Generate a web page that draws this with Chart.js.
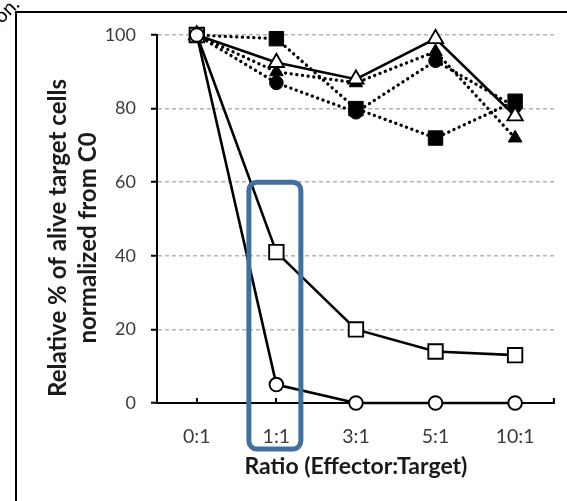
<!DOCTYPE html>
<html>
<head>
<meta charset="utf-8">
<script src="https://cdn.jsdelivr.net/npm/chart.js@4"></script>
<style>
  html, body { margin: 0; padding: 0; background: #ffffff; }
  #wrap { width: 567px; height: 501px; }
</style>
</head>
<body>
<div id="wrap"><canvas id="c" width="567" height="501"></canvas></div>
<script>
// ---- data ----
const categories = ['0:1', '1:1', '3:1', '5:1', '10:1'];
const yTicks = [0, 20, 40, 60, 80, 100];
const openCircle = [100, 5, 0, 0, 0];
const openSquare = [100, 41, 20, 14, 13];
const openTriangle = [100, 92.5, 88, 99, 78];
const filledSquare = [100, 99, 80, 72, 82];
const filledCircle = [100, 87, 79, 93, 80.5];
const filledTriangle = [100, 90, 87, 95.5, 72];
const xTitle = 'Ratio (Effector:Target)';
const yTitleLines = ['Relative % of alive target cells', 'normalized from C0'];
const highlightIndex = 1;     // highlighted category (1:1)
const highlightTopValue = 60; // top of the highlight box in data units

const FONT = 'Lato, "Open Sans", sans-serif';

function solid(data, style, radius, order) {
  return {
    data, order, clip: false,
    borderColor: '#000', borderWidth: 2.6,
    pointStyle: style, pointRadius: radius, pointHoverRadius: radius,
    pointBackgroundColor: '#fff', pointBorderColor: '#000', pointBorderWidth: 1.9,
    tension: 0, fill: false
  };
}
function dotted(data, style, radius, order) {
  return {
    data, order, clip: false,
    borderColor: '#000', borderWidth: 3.3,
    borderDash: [0.1, 5.6], borderCapStyle: 'round',
    pointStyle: style, pointRadius: radius, pointHoverRadius: radius,
    pointBackgroundColor: '#000', pointBorderColor: '#000', pointBorderWidth: 1,
    tension: 0, fill: false
  };
}

const decor = {
  id: 'decor',
  beforeDraw(chart) {
    const ctx = chart.ctx;
    ctx.save();
    ctx.fillStyle = '#fff';
    ctx.fillRect(0, 0, chart.width, chart.height);
    ctx.restore();
  },
  beforeDatasetsDraw(chart) {
    const ctx = chart.ctx;
    const xs = chart.scales.x;
    const area = chart.chartArea;
    ctx.save();
    // inward tick marks on x axis (under the markers)
    ctx.strokeStyle = '#000';
    ctx.lineWidth = 2;
    ctx.beginPath();
    categories.forEach((c, i) => {
      const px = Math.round(xs.getPixelForValue(i));
      ctx.moveTo(px, area.bottom);
      ctx.lineTo(px, area.bottom - 5);
    });
    ctx.moveTo(area.right - 1, area.bottom);
    ctx.lineTo(area.right - 1, area.bottom - 5);
    ctx.stroke();
    ctx.restore();
  },
  afterDraw(chart) {
    const ctx = chart.ctx;
    const xs = chart.scales.x, ys = chart.scales.y;
    const area = chart.chartArea;
    ctx.save();

    // y axis title (two lines, rotated), sized so the first line spans ~320px
    let fs = 19;
    ctx.font = 'bold ' + fs + 'px ' + FONT;
    const w = ctx.measureText(yTitleLines[0]).width;
    fs = Math.max(12, Math.min(26, fs * 318 / w));
    ctx.font = 'bold ' + fs.toFixed(1) + 'px ' + FONT;
    ctx.fillStyle = '#1a1a1a';
    ctx.textAlign = 'center';
    ctx.textBaseline = 'middle';
    const cy = 238;
    [58, 88].forEach((cx, i) => {
      ctx.save();
      ctx.translate(cx, cy);
      ctx.rotate(-Math.PI / 2);
      ctx.fillText(yTitleLines[i], 0, 0);
      ctx.restore();
    });

    // highlight box around the 1:1 category
    const hx = xs.getPixelForValue(highlightIndex) - 1.5;
    const top = ys.getPixelForValue(highlightTopValue);
    const bottom = area.bottom + 46;
    ctx.strokeStyle = '#41709f';
    ctx.lineWidth = 5;
    ctx.beginPath();
    ctx.roundRect(hx - 26, top, 52, bottom - top, 8);
    ctx.stroke();

    // outer frame
    ctx.strokeStyle = '#000';
    ctx.lineWidth = 2;
    ctx.beginPath();
    ctx.moveTo(16, chart.height);
    ctx.lineTo(16, 12);
    ctx.lineTo(chart.width, 12);
    ctx.stroke();

    // clipped text fragment in the corner
    ctx.save();
    ctx.translate(-2, 28);
    ctx.rotate(-Math.PI / 4);
    ctx.fillStyle = '#000';
    ctx.font = '20px ' + FONT;
    ctx.textAlign = 'left';
    ctx.textBaseline = 'alphabetic';
    ctx.fillText('ion.', 0, 0);
    ctx.restore();
    ctx.restore();
  }
};

new Chart(document.getElementById('c'), {
  type: 'line',
  data: {
    labels: categories,
    datasets: [
      solid(openCircle, 'circle', 6.8, 0),
      solid(openSquare, 'rect', 10.2, 1),
      solid(openTriangle, 'triangle', 8.8, 2),
      dotted(filledSquare, 'rect', 10.2, 3),
      dotted(filledCircle, 'circle', 6.8, 4),
      dotted(filledTriangle, 'triangle', 7.8, 5)
    ]
  },
  options: {
    responsive: false,
    devicePixelRatio: 1,
    animation: false,
    events: [],
    layout: { padding: { left: 0, top: 35, right: 7, bottom: 0 } },
    plugins: { legend: { display: false }, tooltip: { enabled: false } },
    scales: {
      x: {
        type: 'category',
        offset: true,
        afterFit: s => { s.height = 98; },
        grid: { drawOnChartArea: false, drawTicks: false },
        border: { display: true, color: '#000', width: 2 },
        ticks: { color: '#3a3a3a', font: { family: FONT, size: 19.5 }, padding: 22, maxRotation: 0 },
        title: { display: true, text: xTitle, color: '#1a1a1a',
                 font: { family: FONT, size: 23, weight: 'bold' }, padding: { top: 0, bottom: 21 } }
      },
      y: {
        min: 0, max: 100,
        afterFit: s => { s.width = 157; },
        afterBuildTicks: s => { s.ticks = yTicks.map(v => ({ value: v })); },
        grid: { color: '#b4b4b4', lineWidth: 1.5, tickColor: '#000', tickLength: 6, tickWidth: 2 },
        border: { display: true, color: '#000', width: 2, dash: [4, 3] },
        ticks: { color: '#3a3a3a', font: { family: FONT, size: 18 }, padding: 15 }
      }
    }
  },
  plugins: [decor]
});
</script>
</body>
</html>
